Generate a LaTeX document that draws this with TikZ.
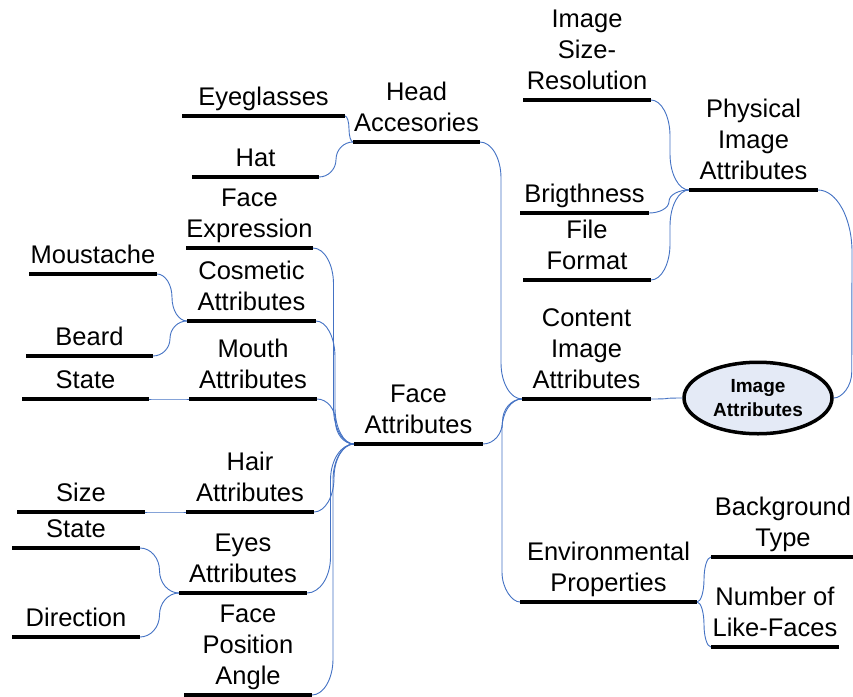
\documentclass[tikz,border=0pt]{standalone}
\usepackage{fontspec}
\setmainfont{Liberation Sans}
\usetikzlibrary{calc,shapes.geometric}
\definecolor{wireblue}{RGB}{68,114,196}
\definecolor{rootfill}{RGB}{228,234,246}
% fixed gap between the last text line and the underline
\newcommand\topicdepth{\rule[-10.5pt]{0pt}{10.5pt}}
\begin{document}
\begin{tikzpicture}[x=1pt,y=-1pt,
  topic/.style={align=center, inner sep=0pt, outer sep=0pt, anchor=south,
    font=\fontsize{25.5}{30.8}\selectfont, minimum width=#1,
    execute at end node=\topicdepth},
  topic/.default=128pt,
  bar/.style={line width=4pt, draw=black},
  wire/.style={draw=wireblue, line width=0.9pt},
  % horizontal out, vertical run at mid x, horizontal in; rounded corners
  link/.style={to path={let \p1=(\tikztostart), \p2=(\tikztotarget),
      \n1={(\x1+\x2)/2},
      \n2={min(abs(\y2-\y1)/2,36pt)*(\y2>\y1?1:-1)} in
      .. controls ({\x1+0.55*(\n1-\x1)},\y1) and (\n1,{\y1+0.45*\n2})
      .. (\n1,{\y1+\n2}) -- (\n1,{\y2-\n2})
      .. controls (\n1,{\y2-0.45*\n2}) and ({\x2-0.55*(\x2-\n1)},\y2)
      .. (\p2) \tikztonodes}},
  root/.style={ellipse, draw=black, line width=3.5pt, fill=rootfill,
    minimum width=148pt, minimum height=71.5pt, inner sep=0pt, align=center,
    font=\bfseries\fontsize{19}{24}\selectfont}
]
\fill[white] (0,0) rectangle (853,696);
\useasboundingbox (0,0) rectangle (853,696);

% left branch: head accessories
\node[topic=163pt] (eyeg) at (263.5,116) {Eyeglasses};
\node[topic=127pt] (hat) at (255.5,177) {Hat};
\node[topic=127pt] (head) at (416.5,142) {Head\\Accesories};

% left branch: face attributes
\node[topic=127pt] (faceexp) at (249.5,248) {Face\\Expression};
\node[topic] (moust) at (93,274) {Moustache};
\node[topic=129pt] (cosm) at (251.5,321) {Cosmetic\\Attributes};
\node[topic=127pt] (beard) at (89.5,356) {Beard};
\node[topic=127pt] (mstate) at (85.5,399) {State};
\node[topic] (mouth) at (253,399) {Mouth\\Attributes};
\node[topic=129pt] (faceattr) at (418.5,444) {Face\\Attributes};
\node[topic] (hsize) at (81,512) {Size};
\node[topic] (hair) at (250,512) {Hair\\Attributes};
\node[topic] (estate) at (76,548) {State};
\node[topic] (eyes) at (243,593) {Eyes\\Attributes};
\node[topic] (direction) at (76,637) {Direction};
\node[topic] (facepos) at (248,695) {Face\\Position\\Angle};

% right branch: physical image attributes
\node[topic] (imgsize) at (587,100) {Image\\Size-\\Resolution};
\node[topic=129pt] (physical) at (753.5,190) {Physical\\Image\\Attributes};
\node[topic=129pt] (bright) at (584.5,213) {Brigthness};
\node[topic] (fileformat) at (587,280) {File\\Format};

% centre: content and environment
\node[topic=129pt] (content) at (586.5,399) {Content\\Image\\Attributes};
\node[topic=177pt] (env) at (608.5,602) {Environmental\\Properties};
\node[topic=144pt] (background) at (783,557) {Background\\Type};
\node[topic] (number) at (775,647) {Number of\\Like-Faces};

\node[root] (root) at (758,398) {Image\\Attributes};

% connectors
\draw[wire] (eyeg.south east) to[link] (head.south west);
\draw[wire] (hat.south east) to[link] (head.south west);
\draw[wire] (head.south east) to[link] (content.south west);
\draw[wire] (faceattr.south east) to[link] (content.south west);
\draw[wire] (content.south west)
  .. controls ([xshift=-11pt]content.south west) and ([shift={(-20pt,-13.5pt)}]content.south west)
  .. ([shift={(-20pt,-30pt)}]content.south west)
  -- ([shift={(-18pt,30pt)}]env.south west)
  .. controls ([shift={(-18pt,13.5pt)}]env.south west) and ([xshift=-8pt]env.south west)
  .. (env.south west);
\draw[wire] (content.south east) to[link] (root.west);
\draw[wire] (physical.south east)
  .. controls ([xshift=18.7pt]physical.south east) and ([shift={(34pt,-28pt)}]physical.south east)
  .. ([shift={(34pt,-62pt)}]physical.south east)
  -- ([shift={(18pt,26pt)}]root.east)
  .. controls ([shift={(18pt,11.7pt)}]root.east) and ([xshift=8.1pt]root.east)
  .. (root.east);
\foreach \k in {imgsize,bright,fileformat}
  \draw[wire] (\k.south east) to[link] (physical.south west);
\foreach \k in {faceexp,cosm,mouth,hair,eyes,facepos}
  \draw[wire] (\k.south east) to[link] (faceattr.south west);
\foreach \k in {moust,beard}
  \draw[wire] (\k.south east) to[link] (cosm.south west);
\draw[wire] (mstate.south east) to[link] (mouth.south west);
\draw[wire] (hsize.south east) to[link] (hair.south west);
\foreach \k in {estate,direction}
  \draw[wire] (\k.south east) to[link] (eyes.south west);
\foreach \k in {background,number}
  \draw[wire] (env.south east) to[link] (\k.south west);

% underlines
\foreach \k in {eyeg,hat,head,faceexp,moust,cosm,beard,mstate,mouth,faceattr,
    hsize,hair,estate,eyes,direction,facepos,imgsize,physical,bright,
    fileformat,content,env,background,number}
  \draw[bar] (\k.south west) -- (\k.south east);
\end{tikzpicture}
\end{document}
